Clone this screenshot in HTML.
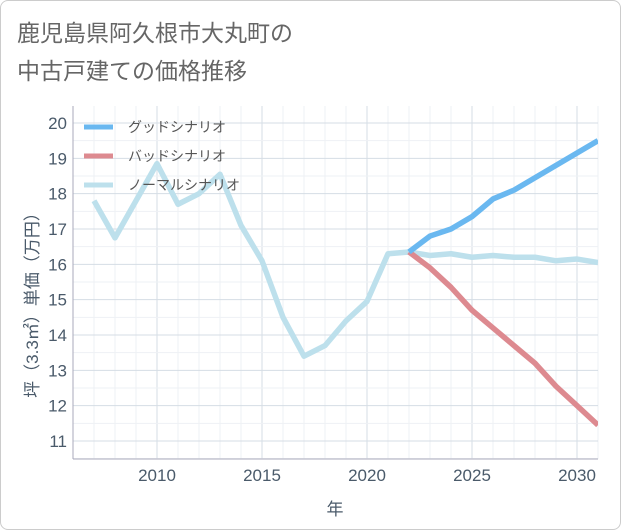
<!DOCTYPE html>
<html><head><meta charset="utf-8"><style>
body{margin:0;background:#fff;font-family:"Liberation Sans","Noto Sans CJK JP",sans-serif;}
#card{position:absolute;left:0;top:0;width:619px;height:528px;border:1px solid #ccc;border-radius:8px;background:#fff;}
#title{position:absolute;left:16px;top:13px;font-size:23px;line-height:38px;color:#666;}
</style></head><body>
<div id="card">
<div id="title">鹿児島県阿久根市大丸町の<br>中古戸建ての価格推移</div>
<svg id="chart" width="621" height="530" style="position:absolute;left:0;top:0"></svg>
</div>
<script>
const years=[2007,2008,2009,2010,2011,2012,2013,2014,2015,2016,2017,2018,2019,2020,2021,2022,2023,2024,2025,2026,2027,2028,2029,2030,2031];
const normalVals=[17.8,16.75,17.8,18.85,17.7,18.0,18.55,17.1,16.1,14.5,13.4,13.7,14.4,14.95,16.3,16.35,16.25,16.3,16.2,16.25,16.2,16.2,16.1,16.15,16.05];
const futureYears=[2022,2023,2024,2025,2026,2027,2028,2029,2030,2031];
const goodVals=[16.35,16.8,17.0,17.35,17.85,18.1,18.45,18.8,19.15,19.5];
const badVals=[16.35,15.9,15.35,14.7,14.2,13.7,13.2,12.55,12.0,11.45];
const yTicks=[11,12,13,14,15,16,17,18,19,20];
const xTicks=[2010,2015,2020,2025,2030];
const NS='http://www.w3.org/2000/svg';
const svg=document.getElementById('chart');
const L=72,R=597,T=105,B=458;
const x=v=>L+(v-2006)*21;
const y=v=>440-(v-11)*(318/9);
function mk(tag,attrs,parent){const e=document.createElementNS(NS,tag);for(const k in attrs)e.setAttribute(k,attrs[k]);(parent||svg).appendChild(e);return e;}
const grid=mk('g',{});


for(let yr=2006;yr<=2031;yr++){const gx=x(yr);if(gx<L||gx>R)continue;mk('line',{x1:gx,x2:gx,y1:T,y2:B,stroke:xTicks.includes(yr)?'#d5dde5':'#eef1f4','stroke-width':1},grid);}
for(let v=10.5;v<=20.5;v+=0.5){const gy=y(v);if(gy<T||gy>B)continue;mk('line',{x1:L,x2:R,y1:gy,y2:gy,stroke:Number.isInteger(v)?'#d5dde5':'#eef1f4','stroke-width':1},grid);}
mk('line',{x1:L,x2:L,y1:T,y2:B,stroke:'#aab','stroke-width':1});
mk('line',{x1:L,x2:R,y1:B,y2:B,stroke:'#aab','stroke-width':1});
yTicks.forEach(v=>{const t=mk('text',{x:L-6,y:y(v)+6,'text-anchor':'end','font-size':17,fill:'#4a5a6a'});t.textContent=v;

});
xTicks.forEach(v=>{const t=mk('text',{x:x(v),y:B+22,'text-anchor':'middle','font-size':17,fill:'#4a5a6a'});t.textContent=v;

});
const xt=mk('text',{x:334,y:514,'text-anchor':'middle','font-size':17,fill:'#4a5a6a'});xt.textContent='年';


const yt=mk('text',{x:0,y:0,'text-anchor':'middle','font-size':17,fill:'#4a5a6a',transform:'translate(37,300) rotate(-90)'});yt.textContent='坪（3.3㎡）単価（万円）';


const clip=mk('clipPath',{id:'pc'});mk('rect',{x:L,y:T,width:R-L,height:B-T},clip);
function line(xs,vs,color,name){const p=mk('polyline',{points:xs.map((a,i)=>x(a)+','+y(vs[i])).join(' '),fill:'none',stroke:color,'stroke-width':5.5,'stroke-linejoin':'round','clip-path':'url(#pc)'});

}
line(years,normalVals,'#bde0ec','normal-scenario-line');
line(futureYears,badVals,'#dd8a90','bad-scenario-line');
line(futureYears,goodVals,'#6ab8f0','good-scenario-line');
const leg=[['グッドシナリオ','#6ab8f0'],['バッドシナリオ','#dd8a90'],['ノーマルシナリオ','#bde0ec']];
leg.forEach((l,i)=>{const ly=126+i*29;const g=mk('g',{});


mk('line',{x1:83,x2:112,y1:ly,y2:ly,stroke:l[1],'stroke-width':5},g);
const t=mk('text',{x:127,y:ly+5,'font-size':14,fill:'#555'},g);t.textContent=l[0];});
</script>
</body></html>
